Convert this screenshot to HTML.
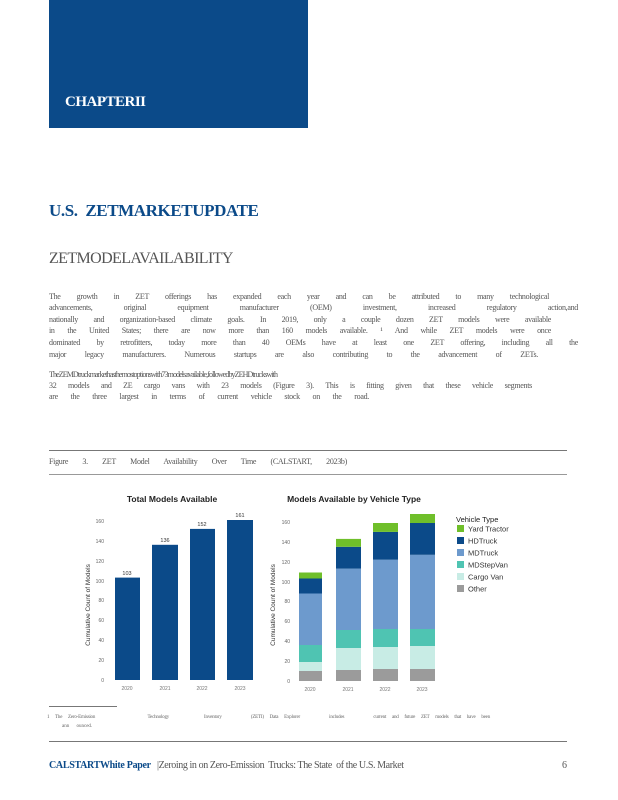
<!DOCTYPE html>
<html><head><meta charset="utf-8"><style>
body{margin:0;background:#fff;}
#p{position:relative;width:618px;height:800px;overflow:hidden;font-family:"Liberation Serif",serif;color:#444;}
.a{position:absolute;white-space:nowrap;}
.j{position:absolute;left:49px;font-size:8px;line-height:10px;text-align:justify;text-align-last:justify;white-space:nowrap;color:#555;letter-spacing:-0.3px;}
.r{position:absolute;height:1px;background:#777;}
</style></head><body><div id="p">
<div class="a" style="left:49px;top:0;width:259px;height:128px;background:#0b4a89;"></div>
<div class="a" style="left:65px;top:94px;color:#fff;font-weight:bold;font-size:15px;letter-spacing:-0.5px;">CHAPTERII</div>
<div class="a" style="left:49px;top:201px;color:#0b4a89;font-weight:bold;font-size:17px;letter-spacing:-0.4px;">U.S.&nbsp; ZETMARKETUPDATE</div>
<div class="a" style="left:49px;top:250px;color:#555;font-size:16px;letter-spacing:-0.6px;">ZETMODELAVAILABILITY</div>

<div class="j" style="top:292px;width:500px;">The growth in ZET offerings has expanded each year and can be attributed to many technological</div>
<div class="j" style="top:303px;width:529px;">advancements, original equipment manufacturer (OEM) investment, increased regulatory action,and</div>
<div class="j" style="top:315px;width:502px;">nationally and organization-based climate goals. In 2019, only a couple dozen ZET models were available</div>
<div class="j" style="top:326px;width:502px;">in the United States; there are now more than 160 models available. &sup1; And while ZET models were once</div>
<div class="j" style="top:338px;width:529px;">dominated by retrofitters, today more than 40 OEMs have at least one ZET offering, including all the</div>
<div class="j" style="top:350px;width:489px;">major legacy manufacturers. Numerous startups are also contributing to the advancement of ZETs.</div>
<div class="a" style="left:49px;top:370px;font-size:8px;letter-spacing:-0.9px;color:#555;">TheZEMDtruckmarkethasthemostoptionswith73modelsavailable,followedbyZEHDtruckswith</div>
<div class="j" style="top:381px;width:483px;">32 models and ZE cargo vans with 23 models (Figure 3). This is fitting given that these vehicle segments</div>
<div class="j" style="top:392px;width:320px;">are the three largest in terms of current vehicle stock on the road.</div>
<div class="r" style="left:49px;top:450px;width:518px;"></div>
<div class="j" style="top:457px;width:298px;">Figure 3. ZET Model Availability Over Time (CALSTART, 2023b)</div>
<div class="r" style="left:49px;top:474px;width:518px;background:#999;"></div>

<svg class="a" style="left:0;top:480px;" width="618" height="220" font-family="Liberation Sans,sans-serif">
<text x="172" y="22" font-size="8.5" font-weight="bold" fill="#222" text-anchor="middle">Total Models Available</text>
<g font-size="5" fill="#666" text-anchor="end">
<text x="104" y="202">0</text><text x="104" y="182">20</text><text x="104" y="162">40</text><text x="104" y="142">60</text><text x="104" y="122">80</text><text x="104" y="103">100</text><text x="104" y="83">120</text><text x="104" y="63">140</text><text x="104" y="43">160</text>
</g>
<text transform="translate(90,125) rotate(-90)" font-size="6.5" fill="#333" text-anchor="middle">Cumulative Count of Models</text>
<g fill="#0b4a89">
<rect x="115" y="97.6" width="25" height="102.4"/><rect x="152" y="64.8" width="26" height="135.2"/><rect x="190" y="48.9" width="25" height="151.1"/><rect x="227" y="40" width="26" height="160"/>
</g>
<g font-size="5.5" fill="#333" text-anchor="middle">
<text x="127" y="95">103</text><text x="165" y="62">136</text><text x="202" y="46">152</text><text x="240" y="37">161</text>
</g>
<g font-size="5" fill="#777" text-anchor="middle"><text x="127" y="210">2020</text><text x="165" y="210">2021</text><text x="202" y="210">2022</text><text x="240" y="210">2023</text></g>

<text x="354" y="22" font-size="8.5" font-weight="bold" fill="#222" text-anchor="middle">Models Available by Vehicle Type</text>
<g font-size="5" fill="#666" text-anchor="end">
<text x="290" y="203">0</text><text x="290" y="183">20</text><text x="290" y="163">40</text><text x="290" y="143">60</text><text x="290" y="123">80</text><text x="290" y="104">100</text><text x="290" y="84">120</text><text x="290" y="64">140</text><text x="290" y="44">160</text>
</g>
<text transform="translate(275,125) rotate(-90)" font-size="6.5" fill="#333" text-anchor="middle">Cumulative Count of Models</text>
<g>
<rect x="299" y="191" width="23" height="10" fill="#9b9b9b"/><rect x="299" y="182" width="23" height="9" fill="#c8ece5"/><rect x="299" y="165" width="23" height="17" fill="#4fc4b2"/><rect x="299" y="113.5" width="23" height="51.5" fill="#6d9acd"/><rect x="299" y="98.5" width="23" height="15" fill="#0b4a89"/><rect x="299" y="92.5" width="23" height="6" fill="#6fbf2a"/>
<rect x="336" y="190" width="25" height="11" fill="#9b9b9b"/><rect x="336" y="168" width="25" height="22" fill="#c8ece5"/><rect x="336" y="150" width="25" height="18" fill="#4fc4b2"/><rect x="336" y="88.6" width="25" height="61.4" fill="#6d9acd"/><rect x="336" y="66.8" width="25" height="21.8" fill="#0b4a89"/><rect x="336" y="58.9" width="25" height="7.9" fill="#6fbf2a"/>
<rect x="373" y="189" width="25" height="12" fill="#9b9b9b"/><rect x="373" y="167" width="25" height="22" fill="#c8ece5"/><rect x="373" y="149" width="25" height="18" fill="#4fc4b2"/><rect x="373" y="79.7" width="25" height="69.3" fill="#6d9acd"/><rect x="373" y="51.9" width="25" height="27.8" fill="#0b4a89"/><rect x="373" y="43" width="25" height="8.9" fill="#6fbf2a"/>
<rect x="410" y="189" width="25" height="12" fill="#9b9b9b"/><rect x="410" y="166" width="25" height="23" fill="#c8ece5"/><rect x="410" y="149" width="25" height="17" fill="#4fc4b2"/><rect x="410" y="74.8" width="25" height="74.2" fill="#6d9acd"/><rect x="410" y="43" width="25" height="31.8" fill="#0b4a89"/><rect x="410" y="34" width="25" height="9" fill="#6fbf2a"/>
</g>
<g font-size="5" fill="#777" text-anchor="middle"><text x="310" y="211">2020</text><text x="348" y="211">2021</text><text x="385" y="211">2022</text><text x="422" y="211">2023</text></g>
<text x="456" y="42" font-size="7.5" fill="#222">Vehicle Type</text>
<g font-size="7.5" fill="#333">
<rect x="457" y="45" width="7" height="7" fill="#6fbf2a"/><text x="468" y="51.5">Yard Tractor</text>
<rect x="457" y="57" width="7" height="7" fill="#0b4a89"/><text x="468" y="63.5">HDTruck</text>
<rect x="457" y="69" width="7" height="7" fill="#6d9acd"/><text x="468" y="75.5">MDTruck</text>
<rect x="457" y="81" width="7" height="7" fill="#4fc4b2"/><text x="468" y="87.5">MDStepVan</text>
<rect x="457" y="93" width="7" height="7" fill="#c8ece5"/><text x="468" y="99.5">Cargo Van</text>
<rect x="457" y="105" width="7" height="7" fill="#9b9b9b"/><text x="468" y="111.5">Other</text>
</g>
</svg>

<div class="r" style="left:49px;top:706px;width:68px;"></div>
<div class="j" style="left:47px;top:714px;width:443px;font-size:5px;line-height:7px;color:#666;letter-spacing:-0.2px;">1 The Zero-Emission &nbsp;&nbsp;&nbsp;&nbsp;&nbsp;&nbsp;&nbsp; Technology &nbsp;&nbsp;&nbsp;&nbsp; Inventory &nbsp;&nbsp;&nbsp; (ZETI) Data Explorer &nbsp;&nbsp;&nbsp; includes &nbsp;&nbsp;&nbsp; current and future ZET models that have been</div>
<div class="a" style="left:62px;top:724px;font-size:5px;color:#666;word-spacing:6px;">ann ounced.</div>
<div class="r" style="left:49px;top:741px;width:518px;"></div>
<div class="a" style="left:49px;top:760px;font-size:10px;color:#0b4a89;font-weight:bold;letter-spacing:-0.3px;">CALSTARTWhite Paper</div>
<div class="a" style="left:157px;top:760px;font-size:10px;color:#555;letter-spacing:-0.4px;">|Zeroing in on Zero-Emission&nbsp; Trucks: The State&nbsp; of the U.S. Market</div>
<div class="a" style="left:562px;top:760px;font-size:10px;color:#555;">6</div>
</div></body></html>
